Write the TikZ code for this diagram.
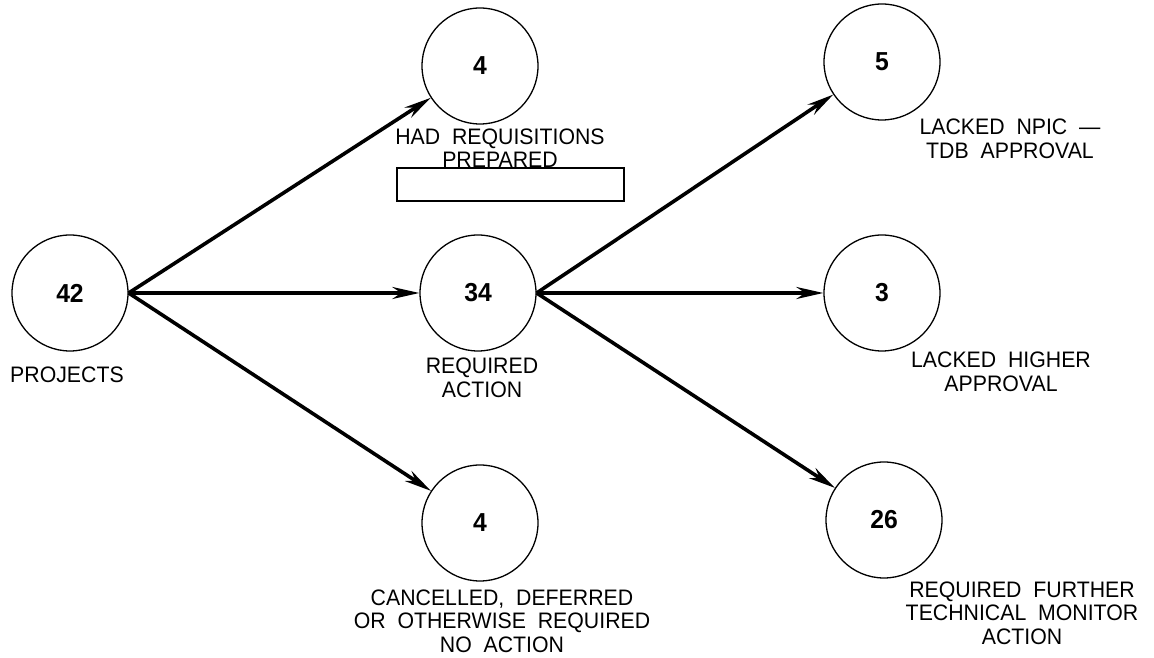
\documentclass[tikz,border=0pt]{standalone}
\usepackage{fontspec}
\setmainfont{Liberation Sans}[WordSpace=2.0,FakeStretch=0.95]
\usetikzlibrary{arrows.meta}
\begin{document}
\begin{tikzpicture}[x=1pt,y=1pt,
  circ/.style={circle,draw,line width=1.3pt,minimum size=116pt,inner sep=0pt,font=\fontsize{26}{30}\selectfont\bfseries},
  lbl/.style={align=center,font=\fontsize{22.4}{23.5}\selectfont,inner sep=0pt},
  conn/.style={line width=3.6pt,-{Stealth[length=27pt,width=12pt]}},
  box/.style={draw,line width=1.6pt,fill=white}]
\useasboundingbox (0,0) rectangle (1154,658);
% circles
\node[circ] (n42) at (70,365) {42};
\node[circ] (n4a) at (480,592) {4};
\node[circ] (n34) at (478,365) {34};
\node[circ] (n4b) at (480,135) {4};
\node[circ] (n5) at (882,596) {5};
\node[circ] (n3) at (882,365) {3};
\node[circ] (n26) at (884,138) {26};
% labels
\node[lbl] (l42) at (67,283) {PROJECTS};
\node[lbl] (l4a) at (500,510) {HAD REQUISITIONS\\PREPARED};
\node[lbl] (l34) at (482,280) {REQUIRED\\ACTION};
\node[lbl] (l4b) at (502,37) {CANCELLED, DEFERRED\\OR OTHERWISE REQUIRED\\NO ACTION};
\node[lbl] (l5) at (1010,519) {LACKED NPIC ---\\TDB APPROVAL};
\node[lbl] (l3) at (1001,286) {LACKED HIGHER\\APPROVAL};
\node[lbl] (l26) at (1022,45) {REQUIRED FURTHER\\TECHNICAL MONITOR\\ACTION};
% redaction box
\node[box,minimum width=227pt,minimum height=33pt,inner sep=0pt] (bx) at (510.5,473.5) {};
% connectors
\draw[conn] (n42.east) -- (n4a);
\draw[conn] (n42.east) -- (n34);
\draw[conn] (n42.east) -- (n4b);
\draw[conn] (n34.east) -- (n5);
\draw[conn] (n34.east) -- (n3);
\draw[conn] (n34.east) -- (n26);
\end{tikzpicture}
\end{document}
